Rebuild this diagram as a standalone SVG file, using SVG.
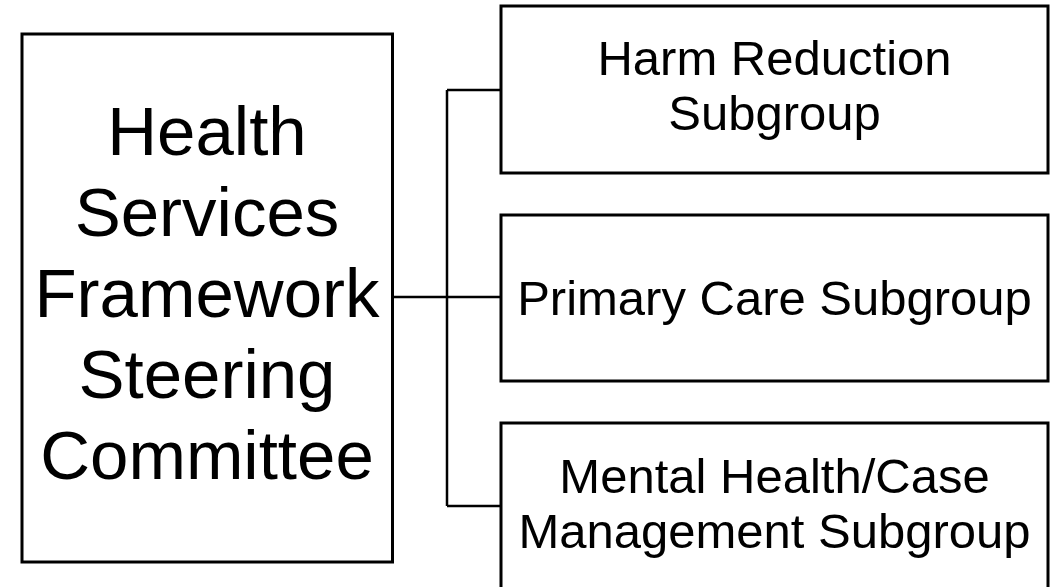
<svg xmlns="http://www.w3.org/2000/svg" width="1061" height="587" viewBox="0 0 1061 587">
<style>
.box{fill:#fff;stroke:#000;stroke-width:3}
.conn{fill:none;stroke:#000;stroke-width:2.5}
.big{font-family:"Liberation Sans",Arial,sans-serif;font-size:69px;fill:#000;text-anchor:middle}
.sm{font-family:"Liberation Sans",Arial,sans-serif;font-size:49px;fill:#000;text-anchor:middle}
</style>
<rect width="1061" height="587" fill="#fff"/>
<g id="connectors">
<path class="conn" d="M392,297 H501 M447,90 V506 M447,90 H501 M447,506 H501"/>
</g>
<g id="steering">
<rect class="box" x="22" y="34" width="370.5" height="528"/>
<text class="big" x="207" y="155">Health</text>
<text class="big" x="207" y="236">Services</text>
<text class="big" x="207" y="317">Framework</text>
<text class="big" x="207" y="398">Steering</text>
<text class="big" x="207" y="479">Committee</text>
</g>
<g id="harm">
<rect class="box" x="501" y="6" width="547" height="167"/>
<text class="sm" x="774.5" y="75">Harm Reduction</text>
<text class="sm" x="774.5" y="130">Subgroup</text>
</g>
<g id="primary">
<rect class="box" x="501" y="215" width="547" height="166"/>
<text class="sm" x="774.5" y="315">Primary Care Subgroup</text>
</g>
<g id="mental">
<rect class="box" x="501" y="423" width="547" height="170"/>
<text class="sm" x="774.5" y="493">Mental Health/Case</text>
<text class="sm" x="774.5" y="548">Management Subgroup</text>
</g>
</svg>
